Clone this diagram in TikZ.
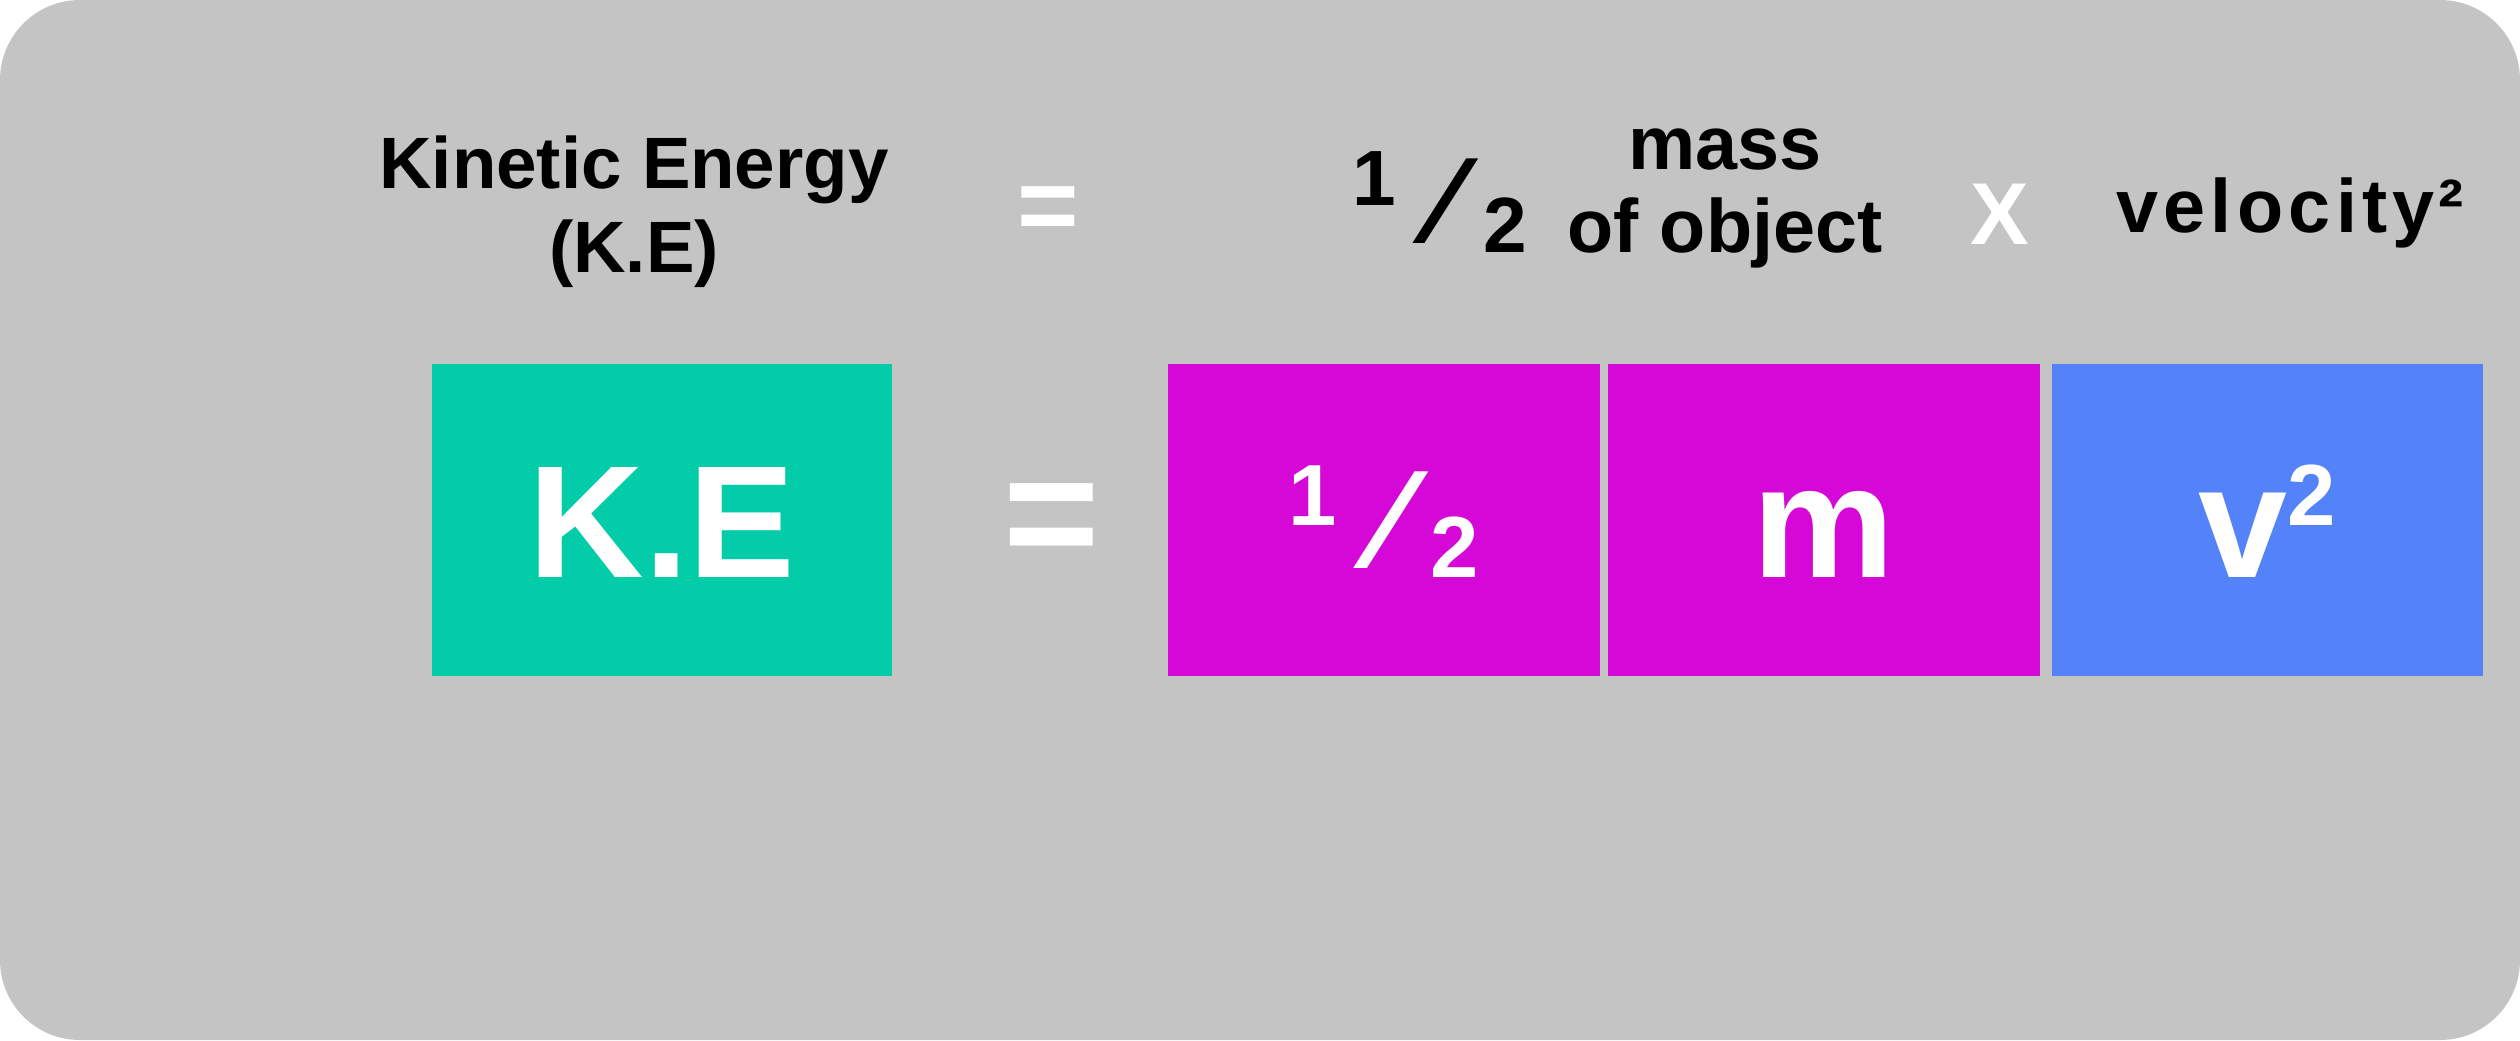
\documentclass[tikz,border=0pt]{standalone}
\usepackage{fontspec}
\setmainfont{Liberation Sans}
\definecolor{panelgray}{HTML}{C4C4C4}
\definecolor{kegreen}{HTML}{03CCA9}
\definecolor{massmagenta}{HTML}{D508D8}
\definecolor{velblue}{HTML}{5382F9}
\newcommand{\fsz}[2]{\fontsize{#1}{#2}\selectfont}

\begin{document}
\begin{tikzpicture}[x=0.1mm, y=-0.1mm, every node/.style={inner sep=0pt, font=\bfseries},
  toptxt/.style={font=\bfseries\fsz{20.7pt}{23.9pt}, align=center, anchor=base},
  whitesign/.style={text=white, anchor=base},
  termbox/.style={minimum width=43.2mm, minimum height=31.2mm, text=white,
    text height=32.6pt, text depth=0pt, font=\bfseries\fsz{45.5pt}{54pt}}]

  % panel
  \fill[panelgray, rounded corners=8mm] (0,0) rectangle (2520,1040);

  % words (two-line nodes sit on their last baseline)
  \node[toptxt] (kelabel) at (634,272) {Kinetic Energy\\(K.E)};
  \node[whitesign, font=\bfseries\fsz{30pt}{30pt}] (eqtop) at (1048,241) {=};
  \node[anchor=base, font=\bfseries\fsz{22.3pt}{22.3pt}] (halflabel) at (1440,252)
    {\raisebox{13.1pt}{1}\hspace{11pt}\raisebox{2.5pt}{\fsz{35pt}{35pt}⁄}\hspace{8pt}2};
  \node[toptxt, font=\bfseries\fsz{21.5pt}{23.6pt}] (masslabel) at (1725,252) {mass\\of object};
  \node[whitesign, font=\bfseries\fsz{25pt}{25pt}] (timeslabel) at (2000,244) {X};
  \node[toptxt, font=\bfseries\fsz{21.5pt}{23.6pt}] (vellabel) at (2290,232)
    {\addfontfeature{LetterSpace=7}velocity\hspace{1pt}²};

  % symbols
  \node[termbox, fill=kegreen, minimum width=46mm] (kebox) at (662,520) {K.E};
  \node[whitesign, font=\bfseries\fsz{47pt}{47pt}] (eqbig) at (1052,569) {=};
  \node[termbox, fill=massmagenta] (halfbox) at (1384,520)
    {\raisebox{14.8pt}{\fsz{24.7pt}{24.7pt}1}\hspace{12pt}\raisebox{2.5pt}{\fsz{40pt}{40pt}⁄}\hspace{8pt}{\fsz{24.7pt}{24.7pt}2}};
  \node[termbox, fill=massmagenta] (massbox) at (1824,520) {m};
  \node[termbox, fill=velblue, minimum width=43.1mm] (velbox) at (2267.5,520)
    {v\raisebox{14.8pt}{\fsz{24.7pt}{24.7pt}2}};

\end{tikzpicture}
\end{document}
